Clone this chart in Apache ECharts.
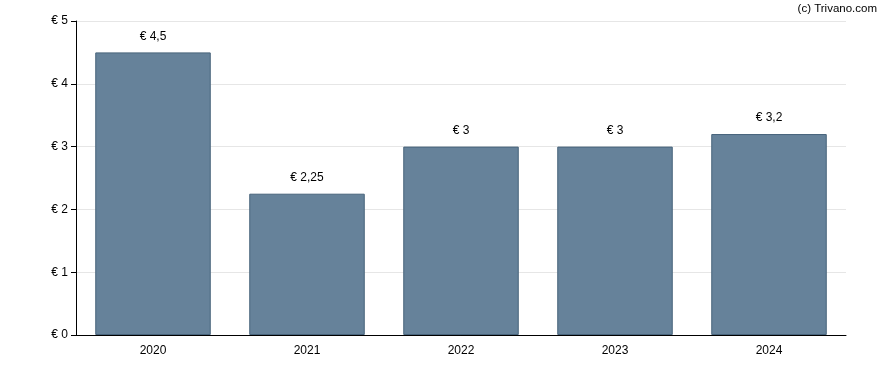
<!DOCTYPE html>
<html><head><meta charset="utf-8">
<script src="https://cdn.jsdelivr.net/npm/echarts@6/dist/echarts.min.js"></script>
<style>html,body{margin:0;padding:0;background:#fff}#c{width:888px;height:370px}</style>
</head><body><div id="c"></div>
<script>
var categories = ['2020','2021','2022','2023','2024'];
var values = [4.5, 2.25, 3, 3, 3.2];
var yTicks = [0,1,2,3,4,5];
function fmt(v){ return '€ ' + String(v).replace('.', ','); }
var chart = echarts.init(document.getElementById('c'));
chart.setOption({
  animation:false,
  textStyle:{fontFamily:'Liberation Sans, Arial, sans-serif'},
  graphic:[{type:'text', right:11, top:3, style:{text:'(c) Trivano.com', fontSize:11.5, fill:'#000', fontFamily:'Liberation Sans, Arial, sans-serif'}}],
  grid:{left:76, right:42, top:21, bottom:35},
  xAxis:{type:'category', data:categories,
    axisLine:{lineStyle:{color:'#000'}},
    axisTick:{alignWithLabel:true, length:5, lineStyle:{color:'#000'}},
    axisLabel:{color:'#000', fontSize:12, margin:10}},
  yAxis:{type:'value', min:0, max:5, interval:1,
    axisLine:{show:true, lineStyle:{color:'#000'}},
    axisTick:{show:true, length:5, lineStyle:{color:'#000'}},
    splitLine:{lineStyle:{color:'#e6e6e6'}},
    axisLabel:{color:'#000', fontSize:12, margin:8, formatter:function(v){return fmt(v);}}},
  series:[{type:'bar', data:values, barCategoryGap:'25%',
    itemStyle:{color:'#66829a', borderColor:'#47637b', borderWidth:1},
    label:{show:true, position:'top', distance:10, color:'#000', fontSize:12, formatter:function(p){return fmt(p.value);}}}]
});
</script></body></html>
